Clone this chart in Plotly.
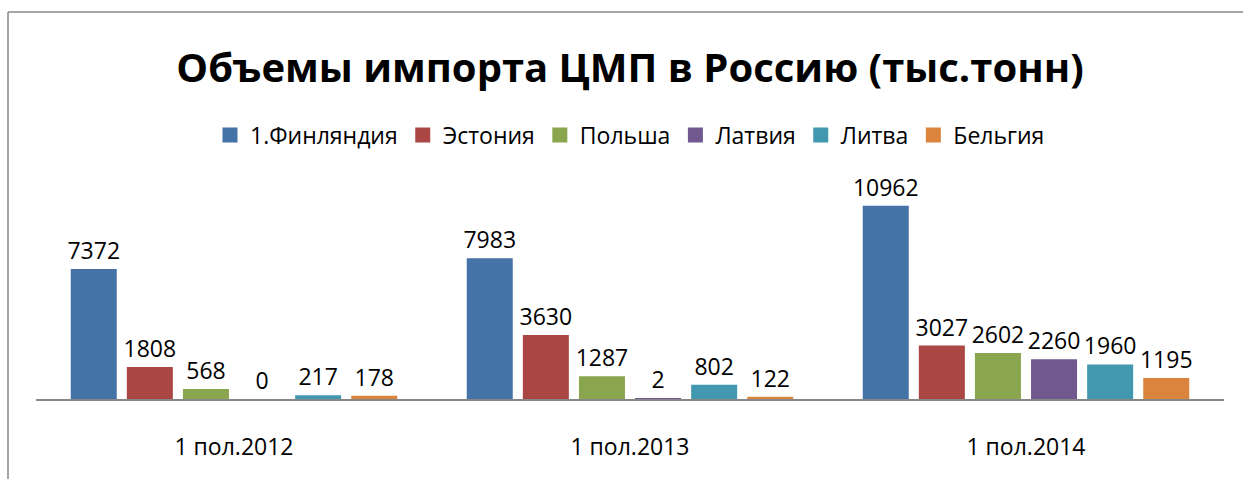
import plotly.graph_objects as go

categories = ["1 пол.2012", "1 пол.2013", "1 пол.2014"]
series_names = ["1.Финляндия", "Эстония", "Польша", "Латвия", "Литва", "Бельгия"]
finland = [7372, 7983, 10962]
estonia = [1808, 3630, 3027]
poland = [568, 1287, 2602]
latvia = [0, 2, 2260]
lithuania = [217, 802, 1960]
belgium = [178, 122, 1195]
colors = ["#4572A7", "#AA4643", "#89A54E", "#71588F", "#4198AF", "#DB843D"]

all_values = [finland, estonia, poland, latvia, lithuania, belgium]

W, H = 1243, 479
ml, mr, mt, mb = 36, 19, 187, 80
plot_w = W - ml - mr
plot_h = H - mt - mb
FONT = "Open Sans"

fig = go.Figure()
for name, vals, col in zip(series_names, all_values, colors):
    fig.add_trace(go.Bar(
        x=categories, y=vals, name=name, legendgroup=name, showlegend=False,
        marker=dict(color=col, line=dict(width=0)),
        text=[str(v) for v in vals], textposition="outside", constraintext="none",
        textfont=dict(family=FONT, size=23, color="#000000"),
        cliponaxis=False,
    ))
# legend entries with larger square swatches
for name, col in zip(series_names, colors):
    fig.add_trace(go.Scatter(
        x=[None], y=[None], mode="markers", name=name, legendgroup=name,
        marker=dict(symbol="square", size=15, color=col), showlegend=True,
    ))

# chart frame (left and top edges visible)
fx0 = (8 - ml) / plot_w
fy_top = (H - mb - 12) / plot_h
fig.add_shape(type="line", xref="paper", yref="paper", x0=fx0, x1=fx0, y0=fy_top, y1=-1,
              line=dict(color="#878787", width=1.5))
fig.add_shape(type="line", xref="paper", yref="paper", x0=fx0, x1=1.2, y0=fy_top, y1=fy_top,
              line=dict(color="#878787", width=1.5))

fig.update_layout(
    width=W, height=H,
    margin=dict(l=ml, r=mr, t=mt, b=mb),
    paper_bgcolor="white", plot_bgcolor="white",
    barmode="group", bargap=0.15, bargroupgap=0.18,
    title=dict(text="<b>Объемы импорта ЦМП в Россию (тыс.тонн)</b>",
               font=dict(family=FONT, size=40, color="#000000"),
               x=(630) / W, xanchor="center", y=1 - 68 / H, yanchor="middle", yref="container"),
    legend=dict(orientation="h", x=0.5, xanchor="center", y=(H - mb - 135) / plot_h, yanchor="middle",
                font=dict(family=FONT, size=23, color="#000000"), traceorder="normal"),
    xaxis=dict(showline=True, linecolor="#878787", linewidth=2, ticks="", showgrid=False,
               tickfont=dict(family=FONT, size=23, color="#000000"), ticklabelstandoff=26),
    yaxis=dict(range=[0, plot_h / (130 / 7372)], visible=False, showgrid=False, zeroline=False),
    showlegend=True,
)

fig.write_html("out.html")
